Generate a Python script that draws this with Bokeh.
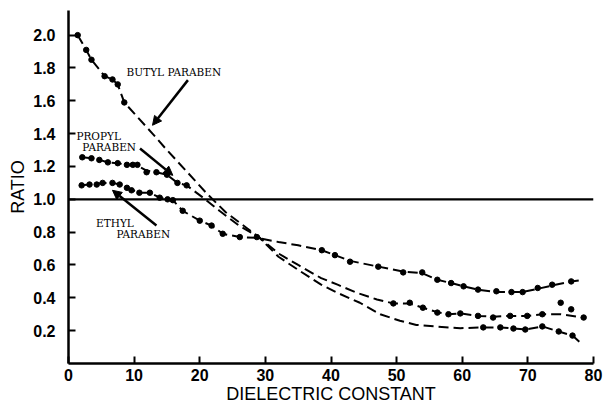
from bokeh.plotting import figure
from bokeh.models import Label, Arrow, NormalHead, FixedTicker, Range1d
from bokeh.embed import file_html
from bokeh.resources import INLINE

# ---------------- data ----------------
x_ticks = [0, 10, 20, 30, 40, 50, 60, 70, 80]
x_tick_labels = ["0", "10", "20", "30", "40", "50", "60", "70", "80"]
y_ticks = [0.2, 0.4, 0.6, 0.8, 1.0, 1.2, 1.4, 1.6, 1.8, 2.0]
y_tick_labels = ["0.2", "0.4", "0.6", "0.8", "1.0", "1.2", "1.4", "1.6", "1.8", "2.0"]
reference_ratio = 1.0

# Butyl paraben
butyl_line_x = [1.4, 2.7, 3.5, 5.5, 6.7, 7.5, 8.5, 12.8, 15.0, 18.0, 21.2, 24.0, 27.0, 29.0,
                32.0, 35.0, 38.5, 41.0, 44.4, 47.5, 50.5, 53.0, 56.0, 59.7, 63.2, 65.8,
                67.8, 69.6, 72.2, 74.7, 76.8, 78.3]
butyl_line_y = [2.0, 1.91, 1.85, 1.75, 1.73, 1.70, 1.59, 1.40, 1.30, 1.17, 1.03, 0.92, 0.83, 0.77,
                0.65, 0.57, 0.48, 0.43, 0.37, 0.30, 0.26, 0.235, 0.225, 0.215, 0.22, 0.22,
                0.213, 0.207, 0.226, 0.195, 0.17, 0.115]
butyl_dot_x = [1.4, 2.7, 3.5, 5.5, 6.7, 7.5, 8.5, 63.2, 65.8, 67.8, 69.6, 72.2, 74.7, 76.8]
butyl_dot_y = [2.0, 1.91, 1.85, 1.75, 1.73, 1.70, 1.59, 0.22, 0.22, 0.213, 0.207, 0.226, 0.195, 0.17]

# Propyl paraben
propyl_line_x = [2.1, 3.5, 4.7, 6.0, 7.5, 8.9, 10.5, 11.9, 13.4, 15.0, 16.6, 18.0, 20.5, 23.0,
                 26.0, 29.0, 32.0, 35.0, 38.5, 41.0, 44.0, 47.0, 49.5, 52.0, 54.0, 56.2, 57.9,
                 59.7, 62.4, 64.7, 67.3, 69.9, 72.2, 75.0, 78.5]
propyl_line_y = [1.256, 1.25, 1.24, 1.225, 1.22, 1.21, 1.205, 1.175, 1.165, 1.15, 1.10, 1.085,
                 1.01, 0.93, 0.84, 0.77, 0.67, 0.60, 0.52, 0.48, 0.43, 0.39, 0.366, 0.365,
                 0.34, 0.313, 0.30, 0.305, 0.29, 0.285, 0.29, 0.29, 0.30, 0.30, 0.28]
propyl_dot_x = [2.1, 3.5, 4.7, 6.0, 7.5, 8.9, 9.8, 10.5, 11.9, 13.4, 15.0, 16.6, 18.0,
                49.5, 52.0, 54.0, 56.2, 57.9, 59.7, 62.4, 64.7, 67.3, 69.9, 72.2, 75.0, 76.6, 78.5]
propyl_dot_y = [1.256, 1.25, 1.24, 1.225, 1.22, 1.21, 1.21, 1.21, 1.165, 1.165, 1.15, 1.10, 1.085,
                0.366, 0.37, 0.34, 0.31, 0.30, 0.305, 0.29, 0.28, 0.29, 0.29, 0.30, 0.37, 0.33, 0.28]

# Ethyl paraben
ethyl_line_x = [2.0, 3.2, 5.2, 6.7, 7.8, 8.9, 10.8, 12.4, 13.9, 15.9, 17.4, 20.0, 21.8, 23.5,
                26.1, 28.7, 32.0, 35.0, 38.6, 40.6, 42.9, 47.2, 51.0, 53.9, 56.2, 58.3, 60.2,
                62.4, 65.2, 67.5, 69.2, 71.5, 73.7, 76.6, 78.5]
ethyl_line_y = [1.085, 1.09, 1.10, 1.10, 1.09, 1.07, 1.04, 1.04, 1.01, 0.995, 0.93, 0.87, 0.84,
                0.79, 0.77, 0.765, 0.74, 0.72, 0.69, 0.66, 0.625, 0.59, 0.56, 0.55, 0.51, 0.49,
                0.47, 0.45, 0.435, 0.435, 0.435, 0.455, 0.475, 0.50, 0.51]
ethyl_dot_x = [2.0, 3.2, 4.3, 5.2, 6.7, 7.8, 8.9, 9.6, 10.8, 12.4, 13.9, 15.1, 15.9, 17.4, 20.0,
               21.8, 23.5, 26.1, 28.7, 38.6, 40.6, 42.9, 47.2, 51.0, 53.9, 56.2, 58.3, 60.2,
               62.4, 65.2, 67.5, 69.2, 71.5, 73.7, 76.6]
ethyl_dot_y = [1.085, 1.09, 1.09, 1.10, 1.10, 1.09, 1.07, 1.055, 1.04, 1.04, 1.01, 1.0, 0.995,
               0.93, 0.87, 0.84, 0.79, 0.77, 0.77, 0.69, 0.66, 0.62, 0.59, 0.555, 0.555, 0.51,
               0.49, 0.47, 0.45, 0.44, 0.435, 0.435, 0.46, 0.48, 0.50]

# ---------------- figure ----------------
p = figure(width=604, height=408, x_range=Range1d(0, 80), y_range=Range1d(0, 2.15),
           output_backend="svg", toolbar_location=None,
           min_border_left=68, min_border_right=11, min_border_top=10, min_border_bottom=45)
p.outline_line_color = None
p.grid.visible = False
p.background_fill_color = "white"
p.border_fill_color = "white"

for ax in (p.xaxis[0], p.yaxis[0]):
    ax.axis_line_width = 2.5
    ax.axis_line_color = "black"
    ax.major_tick_line_width = 2
    ax.major_tick_line_color = "black"
    ax.major_tick_in = 7
    ax.major_tick_out = 0
    ax.minor_tick_line_color = None
    ax.major_label_text_font = "Liberation Sans"
    ax.major_label_text_font_size = "16px"
    ax.major_label_text_font_style = "bold"
    ax.major_label_text_color = "black"
    ax.axis_label_text_font = "Liberation Sans"
    ax.axis_label_text_font_style = "normal"
    ax.axis_label_text_color = "black"

p.xaxis.ticker = FixedTicker(ticks=x_ticks)
p.xaxis.major_label_overrides = {t: l for t, l in zip(x_ticks, x_tick_labels)}
p.xaxis.major_label_standoff = 5
p.xaxis.axis_label = "DIELECTRIC CONSTANT"
p.xaxis.axis_label_text_font_size = "18px"
p.xaxis.axis_label_standoff = 0

p.yaxis.ticker = FixedTicker(ticks=y_ticks)
p.yaxis.major_label_overrides = {t: l for t, l in zip(y_ticks, y_tick_labels)}
p.yaxis.major_label_standoff = 13
p.yaxis.axis_label = "RATIO"
p.yaxis.axis_label_text_font_size = "18px"
p.yaxis.axis_label_standoff = 2

# reference line at ratio 1.0
p.line([0, 80], [reference_ratio, reference_ratio], line_color="black", line_width=2.2)

dash = "10 5"
for lx, ly, dx, dy in [(butyl_line_x, butyl_line_y, butyl_dot_x, butyl_dot_y),
                       (propyl_line_x, propyl_line_y, propyl_dot_x, propyl_dot_y),
                       (ethyl_line_x, ethyl_line_y, ethyl_dot_x, ethyl_dot_y)]:
    p.line(lx, ly, line_color="black", line_width=2, line_dash=dash)
    p.scatter(dx, dy, size=5.5, fill_color="black", line_color="black")

# annotations
ann_font = "DejaVu Serif"
ann_size = "10.5px"
for x, y, t in [(8.85, 1.774, "BUTYL PARABEN"), (1.2, 1.384, "PROPYL"), (2.1, 1.317, "PARABEN"),
                (4.2, 0.853, "ETHYL"), (7.3, 0.79, "PARABEN")]:
    p.add_layout(Label(x=x, y=y, text=t, text_font=ann_font, text_font_size=ann_size,
                       text_baseline="middle", text_align="left", text_color="black"))

for xs, ys, xe, ye in [(18.2, 1.726, 12.8, 1.451), (10.9, 1.31, 15.9, 1.146), (13.4, 0.841, 6.7, 1.055)]:
    p.add_layout(Arrow(end=NormalHead(size=9, fill_color="black", line_color="black"),
                       x_start=xs, y_start=ys, x_end=xe, y_end=ye,
                       line_width=2.5, line_color="black"))

open("out.html", "w").write(file_html(p, INLINE))
